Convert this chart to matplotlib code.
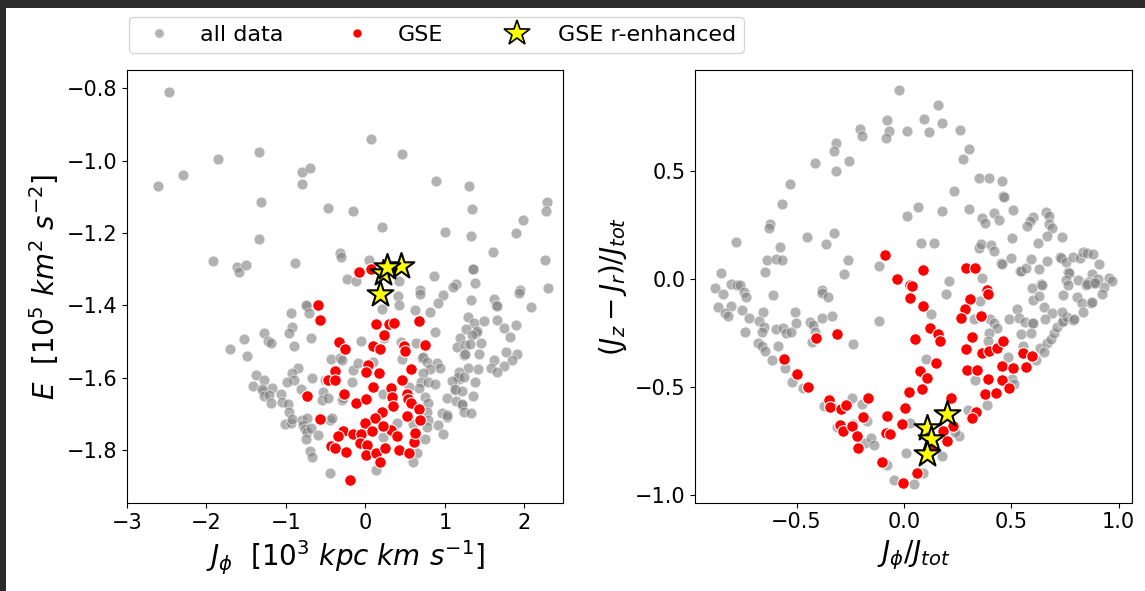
import matplotlib
matplotlib.use("Agg")
import matplotlib.pyplot as plt
from matplotlib.lines import Line2D
from matplotlib.patches import Rectangle

# ---------------- data: left panel (J_phi, E) ----------------
left_all = [
    (-2.465,-0.811), (-1.857,-0.995), (-1.341,-0.977), (-2.293,-1.038), (-2.611,-1.070), (-0.792,-1.031),
    (-0.696,-1.020), (-0.800,-1.065), (-1.308,-1.114), (-0.473,-1.131), (-0.150,-1.139), (-1.341,-1.217),
    (-1.912,-1.277), (-1.618,-1.293), (-1.593,-1.307), (-1.501,-1.287), (-0.884,-1.282), (-0.322,-1.255),
    (-0.309,-1.267), (-0.234,-1.328),
    (0.068,-0.940), (0.458,-0.982), (0.893,-1.055), (1.308,-1.070), (1.342,-1.134), (0.206,-1.184),
    (1.006,-1.197), (1.330,-1.209), (1.980,-1.163), (1.892,-1.199), (2.282,-1.113), (2.273,-1.139),
    (1.603,-1.253), (2.260,-1.275), (0.047,-1.273), (0.860,-1.318), (1.348,-1.298), (1.355,-1.300),
    (1.376,-1.337), (1.141,-1.342), (1.107,-1.349), (0.428,-1.332), (2.302,-1.351), (1.946,-1.358),
    (0.688,-1.358),
    (-0.117,-1.332), (-0.737,-1.401), (-0.745,-1.398), (-0.712,-1.422), (-0.930,-1.420), (-0.918,-1.459),
    (-0.955,-1.475), (-1.270,-1.475), (-1.220,-1.498), (-1.186,-1.505), (-1.526,-1.493), (-1.699,-1.520),
    (-1.482,-1.540), (-0.897,-1.512), (-0.687,-1.490), (-0.435,-1.548), (-0.318,-1.544), (-0.843,-1.572),
    (-0.918,-1.588), (-0.897,-1.606), (-0.989,-1.613), (-0.667,-1.600), (-1.375,-1.593), (-1.279,-1.606),
    (-1.410,-1.623), (-1.292,-1.636), (-1.300,-1.632), (-1.178,-1.629), (-1.270,-1.651), (-1.211,-1.648),
    (-1.190,-1.669), (-1.064,-1.646), (-1.044,-1.666), (-0.976,-1.673), (-0.964,-1.694), (-0.805,-1.631),
    (-0.536,-1.639), (-0.545,-1.662), (-0.469,-1.657), (-0.293,-1.662), (-0.503,-1.605), (-1.004,-1.728),
    (-0.941,-1.726), (-0.916,-1.715), (-0.799,-1.716), (-0.732,-1.710), (-0.786,-1.731), (-0.757,-1.742),
    (-0.736,-1.751), (-0.682,-1.740), (-0.750,-1.769), (-0.599,-1.758), (-0.448,-1.717), (-0.419,-1.711),
    (-0.699,-1.802), (-0.674,-1.819), (-0.448,-1.864),
    (0.415,-1.373), (0.428,-1.398), (0.688,-1.369), (0.206,-1.410), (0.977,-1.371), (0.911,-1.393),
    (1.330,-1.384), (1.623,-1.381), (1.644,-1.399), (1.650,-1.402), (1.933,-1.365), (2.084,-1.404),
    (0.621,-1.412), (0.814,-1.419), (0.873,-1.473), (1.288,-1.431), (1.364,-1.448), (1.489,-1.444),
    (1.653,-1.441), (1.741,-1.461), (1.892,-1.454), (1.263,-1.465), (1.392,-1.475), (1.400,-1.472),
    (1.342,-1.483), (1.187,-1.491), (1.816,-1.488), (-0.050,-1.499), (0.231,-1.491), (0.453,-1.501),
    (0.638,-1.503), (1.153,-1.514), (1.254,-1.510), (1.321,-1.507), (1.459,-1.503), (1.242,-1.538),
    (1.250,-1.535), (1.434,-1.534), (1.766,-1.528), (1.904,-1.533), (1.623,-1.551), (1.845,-1.551),
    (1.748,-1.568), (1.581,-1.572), (1.653,-1.584), (1.418,-1.577), (1.296,-1.574), (0.717,-1.546),
    (0.725,-1.542), (0.780,-1.556), (0.902,-1.559), (0.814,-1.577), (0.936,-1.574), (0.722,-1.586),
    (1.182,-1.584), (1.175,-1.602), (1.170,-1.598), (1.245,-1.597), (1.380,-1.611), (1.087,-1.609),
    (0.697,-1.613), (0.785,-1.611), (0.881,-1.618), (1.124,-1.634), (1.130,-1.630), (1.220,-1.637),
    (1.358,-1.649), (1.024,-1.657), (1.145,-1.664), (1.220,-1.676), (1.215,-1.672), (1.242,-1.694),
    (1.330,-1.696), (0.751,-1.654), (0.785,-1.669), (0.672,-1.627), (0.776,-1.694), (0.965,-1.697),
    (1.024,-1.708), (1.030,-1.704), (0.915,-1.731), (0.789,-1.717), (0.772,-1.736), (0.981,-1.756),
    (0.751,-1.768), (0.646,-1.809), (0.596,-1.832), (0.135,-1.855), (0.553,-1.625), (0.218,-1.645),
    (0.458,-1.549), (0.093,-1.556), (-0.151,-1.579), (-0.096,-1.559), (-0.289,-1.551), (-0.164,-1.611),
    (-0.284,-1.657), (0.596,-1.728), (0.638,-1.761), (0.395,-1.726), (0.226,-1.763),
]
left_gse = [
    (-0.079,-1.307), (0.072,-1.298), (-0.595,-1.398), (-0.574,-1.441), (-0.331,-1.501), (-0.259,-1.521),
    (-0.377,-1.580), (-0.465,-1.606), (-0.381,-1.605), (-0.272,-1.644), (-0.733,-1.649), (-0.566,-1.714),
    (-0.284,-1.747), (-0.340,-1.761), (-0.435,-1.788), (-0.377,-1.795), (-0.239,-1.806), (-0.192,-1.883),
    (0.131,-1.452), (0.302,-1.452), (0.361,-1.448), (0.672,-1.444), (0.239,-1.482), (0.093,-1.512),
    (0.185,-1.521), (0.487,-1.512), (0.499,-1.526), (0.747,-1.508), (0.034,-1.565), (0.005,-1.584),
    (0.176,-1.586), (0.571,-1.575), (0.458,-1.607), (0.101,-1.625), (0.319,-1.628), (0.340,-1.652),
    (0.521,-1.645), (0.541,-1.658), (0.579,-1.669), (0.675,-1.686), (0.352,-1.678), (0.206,-1.694),
    (0.521,-1.706), (0.688,-1.717), (0.126,-1.710), (0.000,-1.726), (-0.117,-1.671), (0.009,-1.660),
    (-0.158,-1.756), (-0.058,-1.756), (0.088,-1.747), (0.319,-1.745), (0.395,-1.761), (0.226,-1.734),
    (-0.067,-1.780), (0.018,-1.786), (0.009,-1.814), (0.131,-1.807), (0.248,-1.795), (0.185,-1.832),
    (0.428,-1.800), (0.550,-1.809), (0.613,-1.777), (0.625,-1.752),
]
left_rich = [(0.445,-1.290), (0.220,-1.311), (0.270,-1.295), (0.185,-1.369)]

# ---------------- data: right panel (Jphi/Jtot, (Jz-Jr)/Jtot) ----------------
right_all = [
    (-0.023,0.876), (-0.078,0.736), (-0.071,0.685), (-0.085,0.654), (0.013,0.685), (-0.205,0.697),
    (-0.196,0.662), (-0.317,0.631), (-0.325,0.595), (-0.255,0.549), (-0.315,0.503), (-0.416,0.537),
    (-0.531,0.442), (-0.568,0.347), (-0.624,0.254), (-0.630,0.235), (-0.784,0.172), (-0.452,0.195),
    (-0.362,0.164), (-0.325,0.215), (-0.578,0.147), (-0.637,0.087), (-0.596,0.091), (-0.567,0.087),
    (-0.647,0.032), (-0.852,0.029), (-0.259,0.088), (-0.281,0.022), (-0.116,0.062), (0.013,0.294),
    (-0.806,-0.023), (-0.779,-0.026), (-0.764,-0.029), (-0.882,-0.040), (-0.383,-0.051),
    (0.157,0.809), (0.092,0.741), (0.177,0.724), (0.115,0.682), (0.261,0.690), (0.304,0.605),
    (0.275,0.558), (0.348,0.470), (0.395,0.470), (0.455,0.453), (0.463,0.384), (0.468,0.380),
    (0.233,0.407), (0.064,0.336), (0.177,0.317), (0.304,0.326), (0.365,0.284), (0.379,0.261),
    (0.421,0.308), (0.444,0.274), (0.508,0.322), (0.599,0.289), (0.588,0.271), (0.573,0.247),
    (0.660,0.310), (0.674,0.294), (0.674,0.254), (0.688,0.235), (0.665,0.201), (0.737,0.196),
    (0.623,0.168), (0.505,0.189), (0.079,0.166), (0.138,0.166), (0.349,0.145), (0.360,0.161),
    (0.405,0.159), (0.418,0.129), (0.453,0.073), (0.458,0.068), (0.500,0.099), (0.540,0.039),
    (0.545,0.035), (0.567,0.052), (0.593,0.094), (0.629,0.046), (0.666,0.084), (0.727,0.103),
    (0.732,0.098), (0.753,0.077), (0.765,0.031), (0.770,0.027), (0.789,0.103), (0.820,0.096),
    (0.832,0.127), (0.851,0.122), (0.882,0.115), (0.908,0.070), (0.874,0.022), (0.859,-0.012),
    (0.882,-0.017), (0.887,-0.012), (0.905,0.000), (0.955,0.003), (0.967,-0.008), (0.932,-0.036),
    (0.812,-0.005), (0.753,-0.005), (0.640,-0.023), (0.595,-0.043), (0.208,-0.008), (0.362,0.003),
    (-0.842,-0.070), (-0.744,-0.059), (-0.736,-0.085), (-0.865,-0.131), (-0.807,-0.125), (-0.834,-0.159),
    (-0.821,-0.172), (-0.756,-0.144), (-0.720,-0.182), (-0.740,-0.245), (-0.655,-0.152), (-0.674,-0.193),
    (-0.652,-0.221), (-0.663,-0.245), (-0.611,-0.074), (-0.679,-0.298), (-0.663,-0.311), (-0.647,-0.333),
    (-0.588,-0.311), (-0.616,-0.376), (-0.596,-0.233), (-0.562,-0.229), (-0.551,-0.252), (-0.526,-0.245),
    (-0.506,-0.152), (-0.504,-0.206), (-0.438,-0.201), (-0.422,-0.213), (-0.414,-0.245), (-0.427,-0.291),
    (-0.383,-0.182), (-0.337,-0.170), (-0.381,-0.066), (-0.355,-0.082), (-0.236,-0.302), (-0.115,-0.193),
    (-0.554,-0.414), (-0.520,-0.477), (-0.469,-0.507), (-0.373,-0.588), (-0.244,-0.551), (-0.197,-0.580),
    (-0.329,-0.593), (-0.313,-0.685), (-0.236,-0.673), (-0.182,-0.762), (-0.155,-0.738), (-0.140,-0.770),
    (-0.171,-0.657), (-0.081,-0.863), (-0.047,-0.933), (0.012,-0.806), (-0.011,-0.670),
    (0.126,-0.164), (0.196,-0.070), (0.354,-0.101), (0.326,-0.187), (0.401,-0.187), (0.421,-0.203),
    (0.432,-0.226), (0.397,-0.252), (0.393,-0.286), (0.101,-0.371), (0.525,-0.141), (0.490,-0.187),
    (0.537,-0.182), (0.564,-0.198), (0.595,-0.206), (0.600,-0.202), (0.599,-0.097), (0.641,-0.028),
    (0.630,-0.079), (0.653,-0.128), (0.688,-0.159), (0.657,-0.187), (0.545,-0.255), (0.592,-0.252),
    (0.556,-0.311), (0.483,-0.363), (0.504,-0.466), (0.514,-0.487), (0.385,-0.585), (0.300,-0.608),
    (0.331,-0.469), (0.633,-0.322), (0.665,-0.296), (0.683,-0.280), (0.700,-0.252), (0.711,-0.221),
    (0.735,-0.198), (0.740,-0.194), (0.758,-0.175), (0.789,-0.190), (0.794,-0.186), (0.735,-0.152),
    (0.740,-0.074), (0.762,-0.028), (0.804,-0.082), (0.828,-0.113), (0.832,-0.152), (0.870,-0.110),
    (0.875,-0.106), (0.848,-0.028), (0.852,-0.024), (0.890,-0.020), (0.921,-0.070), (0.652,-0.337),
    (0.615,-0.376), (0.258,-0.729), (0.238,-0.709), (0.176,-0.820), (0.087,-0.899), (0.048,-0.951),
    (0.028,-0.670),
]
right_gse = [
    (-0.090,0.110), (-0.034,0.000), (0.028,-0.028), (0.087,0.042), (0.287,0.050), (0.332,0.052),
    (0.036,-0.031), (0.388,-0.051),
    (-0.410,-0.272), (-0.311,-0.254), (-0.558,-0.373), (-0.500,-0.442), (-0.449,-0.500), (-0.349,-0.561),
    (-0.345,-0.593), (-0.293,-0.605), (-0.272,-0.585), (-0.169,-0.551), (-0.190,-0.642), (-0.298,-0.677),
    (-0.283,-0.704), (-0.241,-0.682), (-0.220,-0.729), (-0.216,-0.783), (-0.081,-0.636), (-0.085,-0.713),
    (-0.065,-0.721), (-0.104,-0.848), (-0.006,-0.948), (-0.011,-0.673), (0.005,-0.600), (0.025,-0.526),
    (0.028,-0.090),
    (0.087,-0.124), (0.121,-0.229), (0.157,-0.257), (0.168,-0.288), (0.051,-0.280), (0.148,-0.391),
    (0.075,-0.425), (0.106,-0.458), (0.082,-0.512), (0.219,-0.551), (0.230,-0.682), (0.180,-0.704),
    (0.199,-0.752), (0.134,-0.770), (0.059,-0.902), (0.307,-0.094), (0.390,-0.070), (0.284,-0.141),
    (0.264,-0.180), (0.359,-0.172), (0.318,-0.268), (0.289,-0.326), (0.362,-0.342), (0.397,-0.333),
    (0.435,-0.322), (0.463,-0.288), (0.295,-0.422), (0.339,-0.422), (0.390,-0.463), (0.458,-0.404),
    (0.458,-0.469), (0.489,-0.504), (0.380,-0.535), (0.429,-0.528), (0.509,-0.415), (0.556,-0.342),
    (0.568,-0.410), (0.598,-0.357), (0.335,-0.616), (0.315,-0.644),
]
right_rich = [(0.199,-0.628), (0.106,-0.693), (0.126,-0.744), (0.106,-0.813)]

legend_labels = ["all data", "GSE", "GSE r-enhanced"]

# ---------------- figure ----------------
W, H = 1145, 591
fig = plt.figure(figsize=(W / 100, H / 100), dpi=100, facecolor="#2b2b2b")
fig.patches.append(Rectangle((6 / W, 0), 1 - 6 / W, 1 - 8 / H, transform=fig.transFigure,
                             facecolor="white", edgecolor="none", zorder=-10))

ax1 = fig.add_axes([126.8 / W, 1 - 503.3 / H, 436.5 / W, 433.3 / H])
ax2 = fig.add_axes([695 / W, 1 - 502.7 / H, 436.7 / W, 432.7 / H])


def draw(ax, allpts, gse, rich):
    ax.scatter([p[0] for p in allpts], [p[1] for p in allpts], s=60, color="gray", alpha=0.6,
               edgecolors="white", linewidths=0.6, zorder=2)
    ax.scatter([p[0] for p in gse], [p[1] for p in gse], s=70, color="red",
               edgecolors="white", linewidths=0.8, zorder=3)
    ax.scatter([p[0] for p in rich], [p[1] for p in rich], s=380, marker="*", color="yellow",
               edgecolors="black", linewidths=1.5, zorder=4)
    ax.tick_params(labelsize=15)


draw(ax1, left_all, left_gse, left_rich)
draw(ax2, right_all, right_gse, right_rich)

ax1.set_xlim(-3.0, 2.49)
ax1.set_ylim(-1.947, -0.749)
ax1.set_xticks([-3, -2, -1, 0, 1, 2])
ax1.set_yticks([-1.8, -1.6, -1.4, -1.2, -1.0, -0.8])
ax1.set_xlabel(r"$J_\phi\ \ [10^3\ kpc\ km\ s^{-1}]$", fontsize=20)
ax1.set_ylabel(r"$E\ \ [10^5\ km^2\ s^{-2}]$", fontsize=20)

ax2.set_xlim(-0.973, 1.061)
ax2.set_ylim(-1.038, 0.970)
ax2.set_xticks([-0.5, 0.0, 0.5, 1.0])
ax2.set_yticks([-1.0, -0.5, 0.0, 0.5])
ax2.set_xlabel(r"$J_\phi/J_{tot}$", fontsize=20)
ax2.set_ylabel(r"$(J_z-J_r)/J_{tot}$", fontsize=20)

handles = [
    Line2D([], [], ls="none", marker="o", color="gray", alpha=0.6, markersize=7, markeredgecolor="white"),
    Line2D([], [], ls="none", marker="o", color="red", markersize=7, markeredgecolor="white"),
    Line2D([], [], ls="none", marker="*", markerfacecolor="yellow", markeredgecolor="black",
           markersize=19, markeredgewidth=1.2),
]
fig.legend(handles, legend_labels, loc="upper left", bbox_to_anchor=(129 / W, 1 - 17 / H), ncol=3,
           fontsize=16, frameon=True, columnspacing=2.3, handletextpad=0.85, handlelength=2.0,
           borderaxespad=0, borderpad=0.35)

fig.savefig("out.png", dpi=100, facecolor=fig.get_facecolor())
